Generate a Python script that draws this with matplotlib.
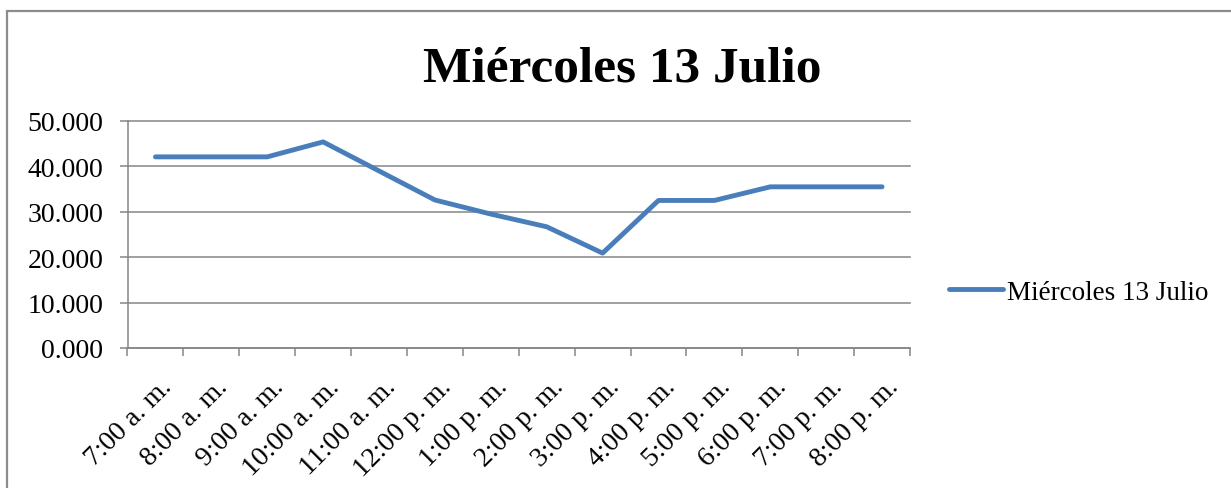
import matplotlib
matplotlib.use("Agg")
import matplotlib.pyplot as plt
from matplotlib.patches import Rectangle
from matplotlib.transforms import ScaledTranslation

# data
hours = ["7:00 a. m.", "8:00 a. m.", "9:00 a. m.", "10:00 a. m.", "11:00 a. m.",
         "12:00 p. m.", "1:00 p. m.", "2:00 p. m.", "3:00 p. m.", "4:00 p. m.",
         "5:00 p. m.", "6:00 p. m.", "7:00 p. m.", "8:00 p. m."]
values = [42.1, 42.1, 42.1, 45.4, 39.0, 32.6, 29.5, 26.7, 20.9, 32.5,
          32.5, 35.5, 35.5, 35.5]
y_ticks = [0, 10, 20, 30, 40, 50]
y_tick_labels = ["0.000", "10.000", "20.000", "30.000", "40.000", "50.000"]
series_name = "Miércoles 13 Julio"
title = "Miércoles 13 Julio"

plt.rcParams['font.family'] = ['Liberation Serif', 'DejaVu Serif']

W, H = 1231, 489
GRAY = '#868686'
BLUE = '#4A7EBB'

fig = plt.figure(figsize=(W / 100, H / 100), dpi=100)
fig.patch.set_facecolor('white')

# chart area border (runs off the right and bottom edges)
fig.patches.append(Rectangle((7 / W, -0.2), 1.5, 1 - 12 / H + 0.2,
                             transform=fig.transFigure, fill=False,
                             edgecolor='#8c8c8c', lw=1.6, clip_on=False))

ax = fig.add_axes([127.5 / W, 1 - 349 / H, (910 - 127.5) / W, (349 - 122) / H])

x = list(range(len(hours)))
ax.plot(x, values, color=BLUE, lw=3.5, solid_capstyle='round',
        solid_joinstyle='round', label=series_name, zorder=3)

ax.set_xlim(-0.5, len(hours) - 0.5)
ax.set_ylim(0, 50)

# y axis
ax.set_yticks(y_ticks, y_tick_labels)
ax.yaxis.grid(True, color=GRAY, lw=1.1)
for gl in ax.get_ygridlines():
    gl.set_clip_on(False)
ax.set_axisbelow(True)
ax.tick_params(axis='y', length=8 * 0.72, width=1.1, color=GRAY,
               pad=16 * 0.72, labelsize=20)

# x axis: labels at centres, ticks at category boundaries
ax.set_xticks(x, hours, rotation=45, ha='right', va='top',
              rotation_mode='anchor')
ax.set_xticks([i - 0.5 for i in range(len(hours) + 1)], minor=True)
ax.tick_params(axis='x', which='major', length=0, pad=26 * 0.72, labelsize=20)
ax.tick_params(axis='x', which='minor', length=8 * 0.72, width=1.1, color=GRAY)
offset = ScaledTranslation(4 / 100, 0, fig.dpi_scale_trans)
for lab in ax.get_xticklabels():
    lab.set_transform(lab.get_transform() + offset)

for side in ['top', 'right']:
    ax.spines[side].set_visible(False)
for side in ['left', 'bottom']:
    ax.spines[side].set_color(GRAY)
    ax.spines[side].set_linewidth(1.1)

# legend
ax.legend(loc='center left', bbox_to_anchor=(949 / W, 1 - 293 / H),
          bbox_transform=fig.transFigure, frameon=False, borderpad=0,
          borderaxespad=0, handlelength=2.0, handletextpad=0.15, fontsize=19.5)

# title
fig.text(622.5 / W, 1 - 81.7 / H, title, ha='center', va='baseline',
         fontsize=37, fontweight='bold')

fig.savefig('out.png', dpi=100)
